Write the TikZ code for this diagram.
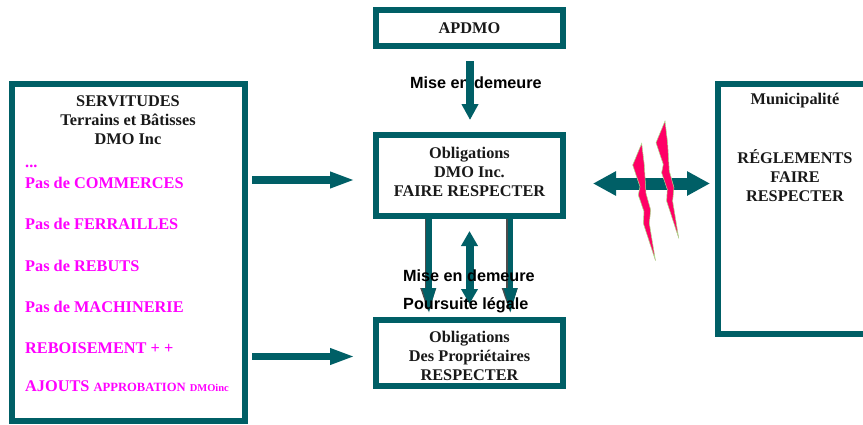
\documentclass[tikz,border=0pt]{standalone}
\usepackage{fontspec}
\setmainfont{Liberation Serif}
\setsansfont{Liberation Sans}
\usetikzlibrary{arrows.meta,calc}
\definecolor{boxteal}{HTML}{005F66}
\definecolor{boltpink}{HTML}{FF0066}
\definecolor{boltedge}{HTML}{A8E08C}
\definecolor{optpink}{HTML}{FF00FF}
\tikzset{
  x=1pt,y=-1pt,
  boxnode/.style={draw=boxteal,line width=6pt,fill=white,rectangle,inner sep=0pt,outer sep=3pt},
  txt/.style={font=\fontsize{16.3}{19}\selectfont\bfseries,align=center,inner sep=0pt,text=black!90},
  pinktxt/.style={font=\fontsize{16.3}{19}\selectfont\bfseries,anchor=base west,inner sep=0pt,text=optpink},
  lbl/.style={font=\fontsize{16.2}{18}\selectfont\sffamily\bfseries,anchor=west,inner sep=0pt,text=black},
  fat/.style={draw=boxteal,line width=8pt,-{Triangle[length=16pt,width=16pt]}},
  fatl/.style={draw=boxteal,line width=7.5pt,-{Triangle[length=25pt,width=15pt]}},
  dbl/.style={draw=boxteal,line width=8pt,{Triangle[length=15pt,width=16pt]}-{Triangle[length=15pt,width=16pt]}},
  wide/.style={draw=boxteal,line width=12pt,{Triangle[length=23pt,width=23pt]}-{Triangle[length=23pt,width=23pt]}},
  shadearrow/.style={draw=black!70,line width=7pt,-{Triangle[length=27pt,width=13.5pt]},shorten >=2pt},
  sidearrow/.style={draw=boxteal,line width=5.5pt,-{Triangle[length=27pt,width=12pt]},shorten >=2pt},
  bolt/.style={fill=boltpink,draw=boltedge,line width=.5pt,line join=miter}
}
\begin{document}
\begin{tikzpicture}
\useasboundingbox (0,0) rectangle (863,424);
% boxes
\node[boxnode,minimum width=187pt,minimum height=36pt] (apdmo) at (469.5,28) {};
\node[boxnode,minimum width=187pt,minimum height=81pt] (dmo) at (469.5,175.5) {};
\node[boxnode,minimum width=187pt,minimum height=66pt] (prop) at (469.5,353) {};
\node[boxnode,minimum width=233pt,minimum height=337pt] (serv) at (128.5,252.5) {};
\node[boxnode,minimum width=170pt,minimum height=250pt] (muni) at (803,209) {};
% box texts
\node[txt] (t1) at (469.5,28) {APDMO};
\node[txt] (t2) at (469.5,171.5) {Obligations\\DMO Inc.\\FAIRE RESPECTER};
\node[txt] (t3) at (469.5,355.5) {Obligations\\Des Propriétaires\\RESPECTER};
\node[txt] (t4) at (128,120) {SERVITUDES\\Terrains et Bâtisses\\DMO Inc};
\node[txt] (t5) at (795,101) {Municipalité};
\node[txt] (t6) at (795,176) {RÉGLEMENTS\\FAIRE\\RESPECTER};
\node[pinktxt] (p0) at (25,167) {...};
\node[pinktxt] (p1) at (25,188.5) {Pas de COMMERCES};
\node[pinktxt] (p2) at (25,229.5) {Pas de FERRAILLES};
\node[pinktxt] (p3) at (25,271.5) {Pas de REBUTS};
\node[pinktxt] (p4) at (25,312.5) {Pas de MACHINERIE};
\node[pinktxt] (p5) at (25,353.5) {REBOISEMENT + +};
\node[pinktxt] (p6) at (25,391.5) {AJOUTS {\fontsize{12.6}{14}\selectfont APPROBATION} {\fontsize{10.5}{12}\selectfont DMOinc}};
% labels and connectors
\node[lbl] (m1) at (410,83) {Mise en demeure};
\draw[fat,shorten <=12pt,shorten >=12pt] ([xshift=.5pt]apdmo.south) -- ([xshift=.5pt]dmo.north);
\coordinate (ya) at (0,180);
\coordinate (yb) at (0,356.5);
\draw[fatl,shorten <=4pt,shorten >=18pt] (serv.east |- ya) -- (dmo.west |- ya);
\draw[fatl,shorten <=4pt,shorten >=18pt] (serv.east |- yb) -- (prop.west |- yb);
\coordinate (xl) at (429,0);
\coordinate (xr) at (510.5,0);
\draw[shadearrow] ([xshift=-.7pt]xl |- dmo.south) -- ([xshift=-.7pt]xl |- prop.north);
\draw[shadearrow] ([xshift=-.7pt]xr |- dmo.south) -- ([xshift=-.7pt]xr |- prop.north);
\draw[sidearrow] (xl |- dmo.south) -- (xl |- prop.north);
\draw[sidearrow] (xr |- dmo.south) -- (xr |- prop.north);
\draw[dbl,shorten <=12pt,shorten >=13pt] (dmo.south) -- (prop.north);
\node[lbl] (m2) at (403,275.5) {Mise en demeure};
\node[lbl] (m3) at (403,305) {Poursuite légale};
\coordinate (ym) at (0,183.5);
\draw[wide,shorten <=27pt,shorten >=5pt] (dmo.east |- ym) -- (muni.west |- ym);
% lightning bolts
\foreach \dx/\dy in {0/0,23.3/-22.3}{
  \begin{scope}[shift={(\dx,\dy)}]
  \filldraw[bolt] (641.7,143.3) -- (632.7,165) -- (640,186.7) -- (638.3,195) -- (644,211.7) -- (643.3,223.3) -- (655.5,260.7) -- (649.3,223.3) -- (650.7,210) -- (646,193.3) -- (644.3,165) -- cycle;
  \end{scope}
}
\end{tikzpicture}
\end{document}
